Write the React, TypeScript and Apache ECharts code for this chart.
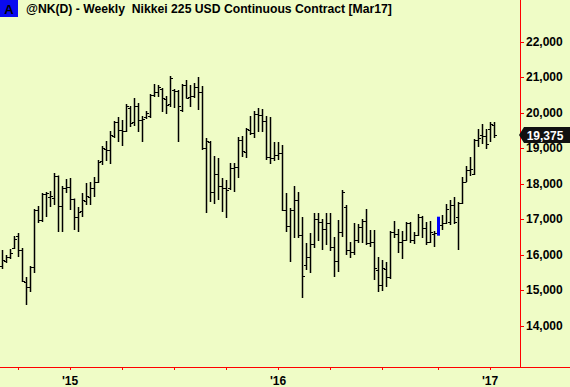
import React, { useEffect, useRef } from "react";
import * as echarts from "echarts";

const titleText = "@NK(D) - Weekly  Nikkei 225 USD Continuous Contract [Mar17]";
const boxLetter = "A";
const firstWeek = "2014-09-05";
const weekSlots = 130;

const opens = [
  15690, 15831, 15943, 16197, 16535, 16141, 15239, 15098, 15662, 17267,
  16986, 17718, 17634, 17605, 18225, 17380, 17887, 17915, 17577, 17070,
  17239, 17521, 17634, 17887, 18056, 18648, 18986, 18958, 19352, 19746,
  19521, 19493, 20141, 19746, 20197, 19803, 19887, 19915, 20507, 20591,
  20676, 20394, 20253, 20648, 20620, 20084, 20789, 20451, 20479, 20732,
  20591, 19014, 19183, 17774, 18281, 17943, 17887, 17887, 18450, 18479,
  19239, 18901, 19521, 19436, 19972, 19943, 19774, 18760, 18732, 18817,
  18873, 17267, 16817, 17267, 17549, 16563, 15718, 15943, 16310, 17014,
  16929, 16732, 16901, 16225, 15831, 16648, 17352, 16141, 16084, 16422,
  16789, 16958, 16338, 16366, 15577, 15155, 15605, 15380, 16648, 16591,
  16366, 16422, 16901, 16422, 16563, 17070, 16760, 16366, 16591, 16620,
  16845, 16901, 16929, 17408, 17070, 17465, 18056, 18394, 18281, 19239,
  19380, 19352, 19549, 19650,
];
const highs = [
  16141, 16000, 16169, 16535, 16620, 16197, 15380, 15690, 17296, 17380,
  17746, 17774, 17803, 18310, 18240, 17943, 18141, 18169, 17590, 17352,
  17746, 18028, 18056, 18197, 18676, 19070, 19211, 19493, 19774, 19887,
  19803, 20253, 20197, 20422, 20281, 19915, 20056, 20535, 20817, 20789,
  20704, 20479, 21042, 20676, 20648, 20817, 20929, 20789, 20845, 21014,
  20760, 19296, 19211, 18789, 18732, 18169, 18113, 18591, 18591, 19324,
  19352, 19577, 19915, 20056, 20141, 20113, 19915, 19887, 19183, 19183,
  19098, 17746, 17324, 17943, 17774, 17070, 16338, 16620, 17183, 17183,
  17014, 17183, 17183, 16507, 16986, 17831, 17408, 16366, 16901, 16873,
  17014, 17296, 16704, 16704, 15943, 15859, 15803, 16676, 16958, 16732,
  16676, 16929, 16929, 16648, 17155, 17100, 16929, 16958, 16676, 17079,
  17127, 17436, 17549, 17634, 17493, 18197, 18507, 18760, 19267, 19549,
  19690, 19549, 19746, 19746,
];
const lows = [
  15605, 15774, 15887, 16169, 15943, 15239, 14592, 14958, 15493, 16901,
  16929, 17070, 17352, 17408, 16648, 16648, 17746, 17267, 16704, 16648,
  17070, 17408, 17408, 17634, 18028, 18535, 18648, 18563, 19296, 19183,
  19070, 19465, 19605, 19634, 19465, 19183, 19831, 19859, 20451, 20451,
  20028, 19972, 20169, 20141, 19183, 20028, 20408, 20169, 20422, 20084,
  18958, 17183, 17493, 17436, 17549, 17211, 17042, 17831, 17774, 18169,
  18760, 18732, 19380, 19296, 19465, 19465, 18676, 18563, 18648, 18676,
  17239, 16648, 15803, 16479, 16479, 14789, 15577, 15493, 16197, 16394,
  16141, 16281, 16113, 15380, 15521, 16507, 16000, 15915, 16000, 16338,
  16338, 16281, 16225, 15296, 14958, 14986, 15098, 15324, 16479, 16056,
  15887, 16400, 16338, 16310, 16535, 16479, 16281, 16338, 16225, 16544,
  16704, 16873, 16845, 16873, 16141, 17436, 18056, 18225, 18253, 19042,
  19127, 18986, 19183, 19296,
];
const closes = [
  15859, 15943, 16056, 16450, 16141, 15267, 15098, 15662, 17267, 16986,
  17718, 17746, 17662, 18225, 17380, 17887, 17915, 17577, 17070, 17211,
  17549, 17662, 17887, 18056, 18620, 19014, 18958, 19380, 19746, 19521,
  19493, 20197, 19718, 20197, 19803, 19831, 20000, 20507, 20591, 20732,
  20422, 20225, 20986, 20620, 20197, 20789, 20422, 20479, 20732, 20591,
  19014, 19211, 17774, 18281, 17943, 17887, 17831, 18450, 18479, 19239,
  18929, 19549, 19436, 19972, 19943, 19774, 18760, 18732, 18817, 18873,
  17267, 16817, 17267, 17549, 16563, 15408, 15943, 16310, 17014, 16929,
  16732, 16901, 16225, 15831, 16648, 17774, 16141, 16084, 16422, 16789,
  16958, 16338, 16366, 15634, 15155, 15634, 15380, 16648, 16591, 16366,
  16422, 16901, 16422, 16563, 17070, 16760, 16366, 16648, 16620, 16950,
  16901, 17296, 17408, 16929, 17465, 18056, 18394, 18422, 19239, 19296,
  19352, 19127, 19690, 19375,
];
const highlightedBars = [109];
const priceTicks = [14000, 15000, 16000, 17000, 18000, 19000, 20000, 21000, 22000];
const priceMin = 12845;
const priceMax = 23183;

const FONT = "Liberation Sans, Arial, Helvetica, sans-serif";
const BG = "#EFFCC6";
const AXIS_RED = "#FF0000";

function weekDates(): string[] {
  const out: string[] = [];
  const t0 = Date.parse(firstWeek + "T00:00:00Z");
  for (let i = 0; i < weekSlots; i++) {
    out.push(new Date(t0 + i * 7 * 86400000).toISOString().slice(0, 10));
  }
  return out;
}

function isQuarterStart(v: string) {
  const m = +v.slice(5, 7);
  const d = +v.slice(8, 10);
  return (m - 1) % 3 === 0 && d <= 7;
}
function isYearStart(v: string) {
  const m = +v.slice(5, 7);
  const d = +v.slice(8, 10);
  return m === 1 && d <= 7;
}

export default function App() {
  const ref = useRef<HTMLDivElement>(null);
  useEffect(() => {
    if (!ref.current) return;
    const chart = echarts.init(ref.current, undefined, { renderer: "svg" });
    const dates = weekDates();
    const barData = opens.map((o, i) => [i, o, highs[i], lows[i], closes[i]]);
    const lastIdx = closes.length - 1;
    const lastClose = closes[lastIdx];
    const px = (v: number) => Math.round(v) + 0.5;

    chart.setOption({
      animation: false,
      backgroundColor: BG,
      grid: { left: 0, right: 50, top: 0, bottom: 20, containLabel: false },
      xAxis: {
        type: "category",
        data: dates,
        boundaryGap: true,
        axisLine: { show: true, lineStyle: { color: AXIS_RED, width: 1 } },
        axisTick: {
          show: true,
          alignWithLabel: true,
          length: 3,
          interval: (_i: number, v: string) => isQuarterStart(v),
          lineStyle: { color: AXIS_RED },
        },
        axisLabel: {
          interval: (_i: number, v: string) => isYearStart(v),
          formatter: (v: string) => "'" + v.slice(2, 4),
          color: "#000",
          fontFamily: FONT,
          fontWeight: "bold",
          fontSize: 12,
          margin: 8,
        },
        splitLine: { show: false },
      },
      yAxis: {
        type: "value",
        position: "right",
        min: priceMin,
        max: priceMax,
        splitNumber: 10,
        axisLine: { show: true, lineStyle: { color: AXIS_RED, width: 1 } },
        axisTick: {
          show: true,
          length: 4,
          customValues: priceTicks,
          lineStyle: { color: AXIS_RED },
        },
        axisLabel: {
          customValues: priceTicks,
          formatter: (v: number) => v.toLocaleString("en-US"),
          color: "#000",
          fontFamily: FONT,
          fontWeight: "bold",
          fontSize: 12,
          margin: 6,
        },
        splitLine: { show: false },
      },
      series: [
        {
          type: "custom",
          data: barData,
          encode: { x: 0, y: [1, 2, 3, 4] },
          renderItem: (params: any, api: any) => {
            const i = api.value(0);
            const pO = api.coord([i, api.value(1)]);
            const pH = api.coord([i, api.value(2)]);
            const pL = api.coord([i, api.value(3)]);
            const pC = api.coord([i, api.value(4)]);
            const x = px(pH[0]);
            if (highlightedBars.indexOf(i) >= 0) {
              return {
                type: "rect",
                shape: { x: x - 1.5, y: pH[1], width: 3, height: pL[1] - pH[1] },
                style: { fill: "#0000FF" },
              };
            }
            const st = { stroke: "#000", lineWidth: 1.5 };
            return {
              type: "group",
              children: [
                { type: "line", shape: { x1: x, y1: pH[1], x2: x, y2: pL[1] }, style: st },
                { type: "line", shape: { x1: x - 2.5, y1: px(pO[1]), x2: x, y2: px(pO[1]) }, style: { stroke: "#000", lineWidth: 1 } },
                { type: "line", shape: { x1: x, y1: px(pC[1]), x2: x + 2.5, y2: px(pC[1]) }, style: { stroke: "#000", lineWidth: 1 } },
              ],
            };
          },
        },
        {
          type: "custom",
          data: [[lastIdx, lastClose]],
          clip: false,
          z: 10,
          renderItem: (params: any, api: any) => {
            const p = api.coord([api.value(0), api.value(1)]);
            const x0 = params.coordSys.x + params.coordSys.width - 1;
            const y = Math.round(p[1]);
            return {
              type: "group",
              children: [
                {
                  type: "polygon",
                  shape: {
                    points: [
                      [x0, y],
                      [x0 + 5, y - 8],
                      [570, y - 8],
                      [570, y + 8],
                      [x0 + 5, y + 8],
                    ],
                  },
                  style: { fill: "#111111" },
                },
                {
                  type: "text",
                  x: x0 + 26,
                  y: y + 0.5,
                  style: {
                    text: api.value(1).toLocaleString("en-US"),
                    fill: "#FFFFFF",
                    font: "bold 12px " + FONT,
                    align: "center",
                    verticalAlign: "middle",
                  },
                },
              ],
            };
          },
        },
      ],
      graphic: [
        {
          type: "line",
          shape: { x1: 520, y1: 367.5, x2: 570, y2: 367.5 },
          style: { stroke: AXIS_RED, lineWidth: 1 },
          z: 5,
        },
        {
          type: "rect",
          shape: { x: 0, y: 0, width: 18, height: 17 },
          style: { fill: "#0A0AF0" },
          z: 20,
        },
        {
          type: "text",
          x: 9,
          y: 9,
          style: {
            text: boxLetter,
            fill: "#000",
            font: "bold 13px " + FONT,
            align: "center",
            verticalAlign: "middle",
          },
          z: 21,
        },
        {
          type: "text",
          x: 26,
          y: 9,
          style: {
            text: titleText,
            fill: "#000",
            font: "bold 12.2px " + FONT,
            align: "left",
            verticalAlign: "middle",
          },
          z: 21,
        },
      ],
    });
    return () => chart.dispose();
  }, []);
  return (
    <div
      ref={ref}
      style={{ position: "fixed", left: 0, top: 0, width: 570, height: 387, background: BG }}
    />
  );
}
